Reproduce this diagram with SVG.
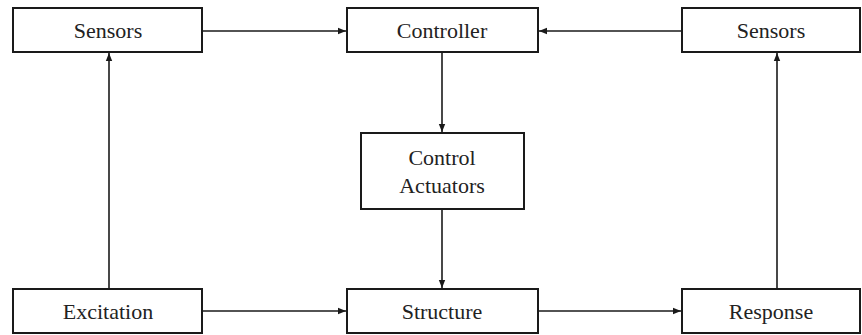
<svg xmlns="http://www.w3.org/2000/svg" width="862" height="335" viewBox="0 0 862 335">
<defs>
<marker id="ah" viewBox="0 0 10 10" refX="10" refY="5" markerWidth="8" markerHeight="8" markerUnits="userSpaceOnUse" orient="auto">
<path d="M0,1 L10,5 L0,9 Z" fill="#1a1a1a"/>
</marker>
<style>
.box{fill:#fff;stroke:#1a1a1a;stroke-width:2}
.lbl{font-family:"Liberation Serif","Times New Roman",serif;font-size:22px;fill:#222;text-anchor:middle}
.con{stroke:#1a1a1a;stroke-width:1.6;fill:none;marker-end:url(#ah)}
</style>
</defs>
<rect width="862" height="335" fill="#fff"/>
<g id="connectors">
<line class="con" x1="203" y1="31" x2="346" y2="31"/>
<line class="con" x1="681" y1="31" x2="539" y2="31"/>
<line class="con" x1="442" y1="53" x2="442" y2="132"/>
<line class="con" x1="442" y1="210" x2="442" y2="288"/>
<line class="con" x1="109" y1="288" x2="109" y2="53"/>
<line class="con" x1="777" y1="288" x2="777" y2="53"/>
<line class="con" x1="203" y1="311" x2="346" y2="311"/>
<line class="con" x1="539" y1="311" x2="681" y2="311"/>
</g>
<g id="sensors-left"><rect class="box" x="13" y="8" width="189" height="44"/><text class="lbl" x="108" y="38">Sensors</text></g>
<g id="controller"><rect class="box" x="347" y="8" width="191" height="44"/><text class="lbl" x="442" y="38">Controller</text></g>
<g id="sensors-right"><rect class="box" x="682" y="8" width="178" height="44"/><text class="lbl" x="771" y="38">Sensors</text></g>
<g id="actuators"><rect class="box" x="361" y="133" width="163" height="76"/><text class="lbl" x="442" y="165">Control</text><text class="lbl" x="442" y="193">Actuators</text></g>
<g id="excitation"><rect class="box" x="13" y="289" width="189" height="44"/><text class="lbl" x="108" y="319">Excitation</text></g>
<g id="structure"><rect class="box" x="347" y="289" width="191" height="44"/><text class="lbl" x="442" y="319">Structure</text></g>
<g id="response"><rect class="box" x="682" y="289" width="178" height="44"/><text class="lbl" x="771" y="319">Response</text></g>
</svg>
